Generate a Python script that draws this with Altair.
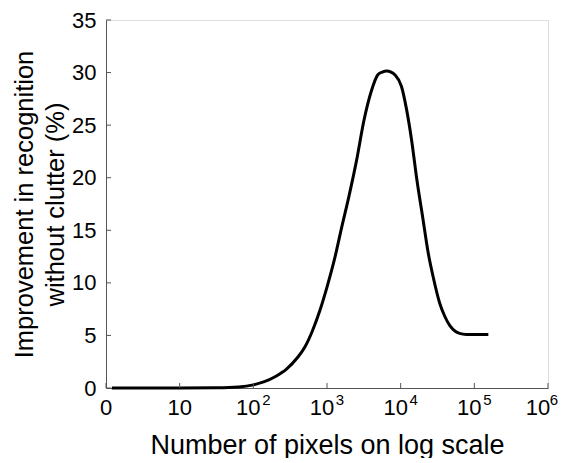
import altair as alt
import pandas as pd

# Curve: number of pixels vs improvement (%)
pixels = [1.2, 3.2, 10, 32, 63, 100, 141, 200, 282, 398, 501, 631, 794, 1000,
          1259, 1585, 1995, 2512, 3162, 3981, 4898, 5623, 6457, 7413, 8318,
          10233, 12023, 14125, 16596, 19953, 23442, 27542, 33884, 39811,
          46774, 54954, 63096, 77625, 100000, 154882]
improvement = [0.0, 0.0, 0.0, 0.02, 0.1, 0.3, 0.6, 1.1, 1.8, 2.9, 3.9, 5.4, 7.3, 9.6,
               12.2, 15.3, 18.3, 21.6, 25.4, 28.2, 29.8, 30.05, 30.15, 30.05, 29.8,
               28.7, 26.5, 23.5, 19.8, 16.2, 13.0, 10.6, 8.06, 6.8,
               5.9, 5.4, 5.2, 5.1, 5.1, 5.1]

x_ticks = [1, 10, 100, 1000, 10000, 100000, 1000000]
x_base = ["0", "10", "10", "10", "10", "10", "10"]
x_exp = ["", "", "2", "3", "4", "5", "6"]
y_ticks = [0, 5, 10, 15, 20, 25, 30, 35]

W, H = 442, 368
FONT = "Liberation Sans"
AX = "#555555"

curve = pd.DataFrame({"px": pixels, "imp": improvement})
xt = pd.DataFrame({"v": x_ticks, "base": x_base, "exp": x_exp})
yt = pd.DataFrame({"v": y_ticks})

xscale = alt.Scale(type="log", domain=[1, 1000000], nice=False)
yscale = alt.Scale(domain=[0, 35], nice=False)

line = alt.Chart(curve).mark_line(color="black", strokeWidth=3,
                                  interpolate="monotone").encode(
    x=alt.X("px:Q", scale=xscale,
            axis=alt.Axis(title="Number of pixels on log scale", labels=False,
                          ticks=False, grid=False, domainColor=AX,
                          titlePadding=44, titleFont=FONT, titleFontSize=27,
                          titleFontWeight="normal", titleColor="black")),
    y=alt.Y("imp:Q", scale=yscale,
            axis=alt.Axis(title=["Improvement in recognition", "without clutter (%)"],
                          values=y_ticks, ticks=False, grid=False, domainColor=AX,
                          labelPadding=10, labelFont=FONT, labelFontSize=22,
                          labelColor="black", titlePadding=3, titleFont=FONT,
                          titleFontSize=25.5, titleLineHeight=31,
                          titleFontWeight="normal", titleColor="black")),
)

xtick_rules = alt.Chart(xt).mark_rule(color=AX, strokeWidth=1).encode(
    x=alt.X("v:Q", scale=xscale), y=alt.value(H), y2=alt.value(H - 5))
ytick_rules = alt.Chart(yt).mark_rule(color=AX, strokeWidth=1).encode(
    y=alt.Y("v:Q", scale=yscale), x=alt.value(0), x2=alt.value(5))

plain = alt.Chart(xt).transform_filter("datum.exp == ''").mark_text(
    font=FONT, fontSize=22, baseline="top", align="center", color="black").encode(
    x=alt.X("v:Q", scale=xscale), y=alt.value(H + 10), text="base:N")
base = alt.Chart(xt).transform_filter("datum.exp != '' && datum.v < 1000000").mark_text(
    font=FONT, fontSize=22, baseline="top", align="center", color="black",
    dx=-5).encode(
    x=alt.X("v:Q", scale=xscale), y=alt.value(H + 10), text="base:N")
expo = alt.Chart(xt).transform_filter("datum.exp != '' && datum.v < 1000000").mark_text(
    font=FONT, fontSize=15, baseline="top", align="center", color="black",
    dx=13).encode(
    x=alt.X("v:Q", scale=xscale), y=alt.value(H + 5), text="exp:N")
base_last = alt.Chart(xt).transform_filter("datum.v >= 1000000").mark_text(
    font=FONT, fontSize=22, baseline="top", align="center", color="black",
    dx=-10).encode(
    x=alt.X("v:Q", scale=xscale), y=alt.value(H + 10), text="base:N")
expo_last = alt.Chart(xt).transform_filter("datum.v >= 1000000").mark_text(
    font=FONT, fontSize=15, baseline="top", align="center", color="black",
    dx=6).encode(
    x=alt.X("v:Q", scale=xscale), y=alt.value(H + 5), text="exp:N")

chart = alt.layer(line, xtick_rules, ytick_rules, plain, base, expo,
                  base_last, expo_last).properties(
    width=W, height=H,
    padding={"left": 4, "top": 1, "right": 0, "bottom": 0},
).configure_view(stroke=None).configure(background="white")

chart.save("out.html", embed_options={"renderer": "svg", "actions": False})
